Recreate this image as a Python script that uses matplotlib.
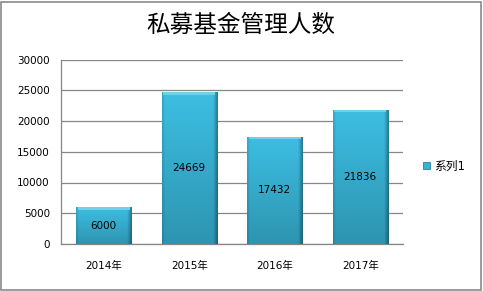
import matplotlib
matplotlib.use("Agg")
import matplotlib.pyplot as plt
import numpy as np
from matplotlib.patches import Rectangle
from matplotlib.colors import LinearSegmentedColormap

plt.rcParams['font.family'] = ['DejaVu Sans', 'Noto Sans CJK SC']

categories = ['2014年', '2015年', '2016年', '2017年']
values = [6000, 24669, 17432, 21836]
series_name = '系列1'
yticks = [0, 5000, 10000, 15000, 20000, 25000, 30000]

W, H = 483, 291
fig = plt.figure(figsize=(W/100, H/100), dpi=100)
fig.patch.set_facecolor('white')
# outer border
fig.add_artist(Rectangle((1/W, 1/H), 1 - 3/W, 1 - 3/H, transform=fig.transFigure,
                         fill=False, edgecolor='#8a8a8a', linewidth=1.2))

ax = fig.add_axes([61/W, 1 - 244/H, (403-61)/W, (244-59.5)/H])
x = np.arange(len(categories))
bars = ax.bar(x, values, width=0.645, color='#35b2d4', edgecolor='#2a7f96', linewidth=0.5, zorder=3)

grad = np.linspace(0, 1, 100).reshape(-1, 1)
cmap = LinearSegmentedColormap.from_list('g', ['#2d95b1', '#3dbee2'])
hgrad = np.linspace(0, 1, 100).reshape(1, -1)
hcmap = LinearSegmentedColormap.from_list(
    'h', [(0.0, (0, 0, 0, 0.12)), (0.05, (0, 0, 0, 0.0)), (0.92, (0, 0, 0, 0.0)), (1.0, (0, 0, 0, 0.35))])
for b in bars:
    x0, y0, w, h = b.get_x(), b.get_y(), b.get_width(), b.get_height()
    im = ax.imshow(grad, extent=(x0, x0 + w, y0, y0 + h), origin='lower', cmap=cmap,
                   aspect='auto', zorder=3.1)
    im.set_clip_path(b)
    im2 = ax.imshow(hgrad, extent=(x0, x0 + w, y0, y0 + h), origin='lower', cmap=hcmap,
                    aspect='auto', zorder=3.2)
    im2.set_clip_path(b)
    # top bevel highlight
    ax.add_patch(Rectangle((x0 + 0.02, y0 + h - 420), w - 0.04, 420, color='#6fd0ec',
                           zorder=3.3, linewidth=0))

for xi, v in zip(x, values):
    ax.text(xi, v / 2, str(v), ha='center', va='center', fontsize=7.5, color='black', zorder=5)

ax.set_xlim(-0.5, len(categories) - 0.5)
ax.set_ylim(0, 30000)
ax.set_yticks(yticks)
ax.set_yticklabels([str(t) for t in yticks], fontsize=7.5)
ax.set_xticks(x)
ax.set_xticklabels(categories, fontsize=7.5)
ax.tick_params(length=0, pad=8)
ax.tick_params(axis='x', pad=12)
ax.grid(axis='y', color='#868686', linewidth=0.9, zorder=0)
for s in ['top', 'right']:
    ax.spines[s].set_visible(False)
for s in ['left', 'bottom']:
    ax.spines[s].set_color('#868686')
    ax.spines[s].set_linewidth(0.9)

fig.text(241/W, 1 - 25/H, '私募基金管理人数', ha='center', va='center', fontsize=17,
         family=['Noto Sans CJK SC'], fontweight='light')

# legend
fig.add_artist(Rectangle((423/W, 1 - 169/H), 7/W, 7/H, transform=fig.transFigure,
                         facecolor='#35b2d4', edgecolor='#2a7f96', linewidth=0.6))
fig.text(434/W, 1 - 166/H, series_name, ha='left', va='center', fontsize=8.5)

fig.savefig('out.png', dpi=100)
